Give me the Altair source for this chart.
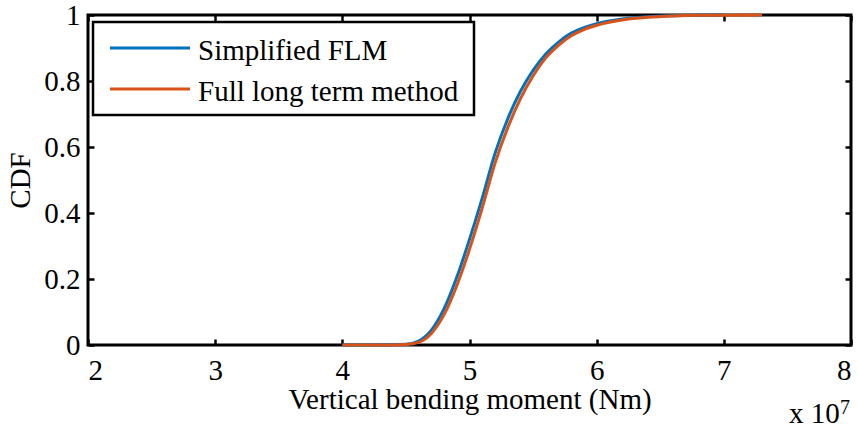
import altair as alt
import pandas as pd

# Bending moment (x 1e7 Nm) and CDF values for the two methods
moment_simplified = [4.0, 4.4, 4.5, 4.6, 4.7, 4.8, 4.9, 5.0, 5.1, 5.2, 5.3, 5.4,
                     5.5, 5.6, 5.7, 5.8, 5.9, 6.0, 6.2, 6.4, 6.6, 6.8, 7.0]
cdf_simplified = [0.0, 0.0005, 0.002, 0.012, 0.045, 0.11, 0.205, 0.32, 0.445, 0.58,
                  0.685, 0.768, 0.832, 0.882, 0.918, 0.945, 0.962, 0.974, 0.988,
                  0.995, 0.998, 0.9995, 1.0]

moment_full = [4.0, 4.4, 4.5, 4.6, 4.7, 4.8, 4.9, 5.0, 5.1, 5.2, 5.3, 5.4,
               5.5, 5.6, 5.7, 5.8, 5.9, 6.0, 6.2, 6.4, 6.6, 6.8, 7.0, 7.3]
cdf_full = [0.0, 0.0003, 0.0015, 0.008, 0.035, 0.092, 0.18, 0.29, 0.415, 0.55,
            0.658, 0.746, 0.815, 0.87, 0.908, 0.937, 0.956, 0.969, 0.985,
            0.993, 0.997, 0.999, 0.9995, 1.0]

series = ["Simplified FLM", "Full long term method"]
colors = ["#0072BD", "#D95319"]
x_ticks = [2, 3, 4, 5, 6, 7, 8]
y_ticks = [0, 0.2, 0.4, 0.6, 0.8, 1]

FONT = "Liberation Serif"

df_simplified = pd.DataFrame({"moment": moment_simplified, "cdf": cdf_simplified,
                              "method": series[0]})
df_full = pd.DataFrame({"moment": moment_full, "cdf": cdf_full, "method": series[1]})
df_all = pd.concat([df_simplified, df_full], ignore_index=True)

x_scale = alt.Scale(domain=[2, 8], nice=False, zero=False)
y_scale = alt.Scale(domain=[0, 1], nice=False)

# Bottom / left axes: labels plus inward-pointing ticks
x_axis = alt.Axis(values=x_ticks, format="d", offset=-6, tickSize=6, tickWidth=2.5,
                  domain=False, grid=False, labelPadding=11, title="Vertical bending moment (Nm)",
                  titlePadding=0)
y_axis = alt.Axis(values=y_ticks, format="~g", offset=-6, tickSize=6, tickWidth=2.5,
                  domain=False, grid=False, labelPadding=8, title="CDF", titlePadding=8)

line_simplified = alt.Chart(df_simplified).mark_line(
    color=colors[0], strokeWidth=3, interpolate="monotone"
).encode(
    x=alt.X("moment:Q", scale=x_scale, axis=x_axis),
    y=alt.Y("cdf:Q", scale=y_scale, axis=y_axis),
)

line_full = alt.Chart(df_full).mark_line(
    color=colors[1], strokeWidth=3, interpolate="monotone"
).encode(
    x=alt.X("moment:Q", scale=x_scale, axis=None),
    y=alt.Y("cdf:Q", scale=y_scale, axis=None),
)

# Top / right axes carrying only the inward ticks of the box
box_ticks = alt.Chart(df_all).mark_line(strokeOpacity=0).encode(
    x=alt.X("moment:Q", scale=x_scale,
            axis=alt.Axis(orient="top", values=x_ticks, offset=-6, tickSize=6, tickWidth=2.5,
                          labels=False, domain=False, grid=False, title=None)),
    y=alt.Y("cdf:Q", scale=y_scale,
            axis=alt.Axis(orient="right", values=y_ticks, offset=-6, tickSize=6, tickWidth=2.5,
                          labels=False, domain=False, grid=False, title=None)),
)

# Legend box with line samples and labels
one_row = pd.DataFrame({"k": [0]})
legend_box = alt.Chart(one_row).mark_rect(fill="white", stroke="black", strokeWidth=2.5).encode(
    x=alt.value(5), x2=alt.value(386), y=alt.value(7), y2=alt.value(100)
)
legend_layers = []
for i, (name, col) in enumerate(zip(series, colors)):
    y_pos = 33 + 41 * i
    legend_layers.append(
        alt.Chart(one_row).mark_rule(color=col, strokeWidth=3).encode(
            x=alt.value(22), x2=alt.value(102), y=alt.value(y_pos)
        )
    )
    legend_layers.append(
        alt.Chart(one_row).mark_text(align="left", baseline="alphabetic", font=FONT,
                                     fontSize=29, color="black").encode(
            x=alt.value(110), y=alt.value(y_pos + 12), text=alt.value(name)
        )
    )

# Exponent note under the right end of the x axis
exp_base = alt.Chart(one_row).mark_text(align="left", baseline="alphabetic", font=FONT,
                                        fontSize=29, color="black").encode(
    x=alt.value(701), y=alt.value(408), text=alt.value("x 10")
)
exp_power = alt.Chart(one_row).mark_text(align="left", baseline="alphabetic", font=FONT,
                                         fontSize=20, color="black").encode(
    x=alt.value(752), y=alt.value(399), text=alt.value("7")
)

chart = alt.layer(
    box_ticks, line_simplified, line_full, legend_box, *legend_layers, exp_base, exp_power
).resolve_axis(
    x="independent", y="independent"
).properties(
    width=763, height=330,
    autosize=alt.AutoSizeParams(type="none"),
    padding={"left": 88, "top": 15, "right": 6, "bottom": 85},
    background="white",
).configure_view(
    stroke="black", strokeWidth=3
).configure_axis(
    labelFont=FONT, labelFontSize=29, labelColor="black",
    titleFont=FONT, titleFontSize=29, titleColor="black", titleFontWeight="normal",
    tickColor="black",
)

chart.save("out.html", embed_options={"renderer": "svg", "actions": False})
